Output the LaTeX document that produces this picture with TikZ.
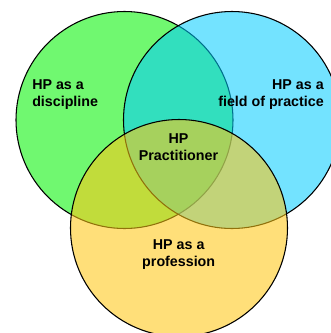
\documentclass[tikz,border=0pt]{standalone}
\usepackage{fontspec}
\setmainfont{Liberation Sans}
\definecolor{vgreen}{RGB}{112,248,112}
\definecolor{vcyan}{RGB}{0,204,255}
\definecolor{vyellow}{RGB}{255,200,20}
\begin{document}
\begin{tikzpicture}[x=0.75pt,y=-0.75pt,
  setcircle/.style={draw=black,line width=0.8pt},
  lbl/.style={inner sep=0pt,font=\fontsize{10.7}{12.75}\selectfont\bfseries}]
\clip (0,0) rectangle (331,333);
\useasboundingbox (0,0) rectangle (331,333);
\fill[white] (0,0) rectangle (331,333);
\path[setcircle,fill=vgreen] (124.5,120) circle[radius=108.5];
\path[setcircle,fill=vcyan,fill opacity=0.55] (232,120) circle[radius=108.5];
\path[setcircle,fill=vyellow,fill opacity=0.57] (179,228) circle[radius=108.5];
\node[lbl,anchor=north west,align=left] (disc) at (32,79.8) {HP as a\\discipline};
\node[lbl,anchor=north east,align=right] (field) at (324,79.3) {HP as a\\field of practice};
\node[lbl,anchor=north,align=center] (prac) at (178.5,133) {HP\\Practitioner};
\node[lbl,anchor=north,align=center] (prof) at (178.7,239) {HP as a\\profession};
\end{tikzpicture}
\end{document}
